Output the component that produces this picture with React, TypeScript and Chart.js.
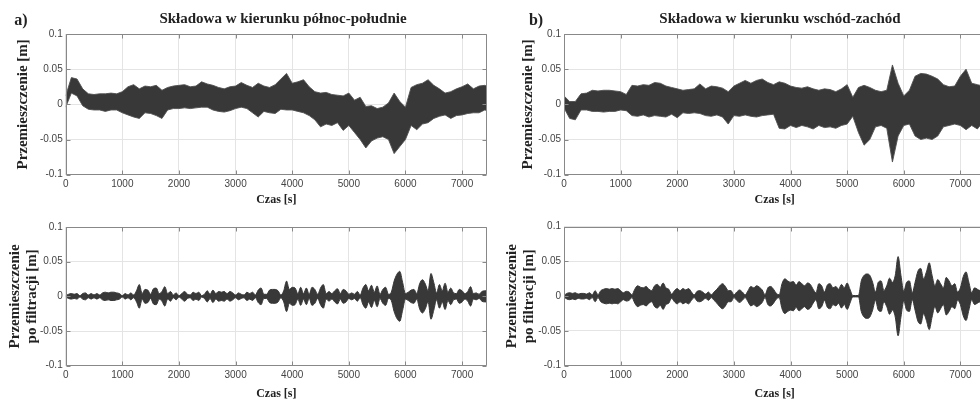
import React, { useEffect, useRef } from 'react';
import { Chart, registerables } from 'chart.js';

Chart.register(...registerables);

// ---------- axis ticks ----------
const xTicks = [0, 1000, 2000, 3000, 4000, 5000, 6000, 7000];
const xTickLabels = ['0', '1000', '2000', '3000', '4000', '5000', '6000', '7000'];
const yTicks = [-0.1, -0.05, 0, 0.05, 0.1];
const yTickLabels = ['-0.1', '-0.05', '0', '0.05', '0.1'];

// ---------- time bases (s) ----------
const rawStep = 100; // raw signals sampled every 100 s (0..7500)
const filtStep = 50; // filtered signals sampled every 50 s (0..7450)

// ---------- a) north-south, raw: upper / lower envelope [m] ----------
const nsRawUpper = [
  0.012, 0.038, 0.036, 0.022, 0.015, 0.014, 0.015, 0.015, 0.016, 0.015,
  0.018, 0.025, 0.028, 0.022, 0.026, 0.025, 0.027, 0.020, 0.024, 0.026,
  0.027, 0.028, 0.025, 0.026, 0.032, 0.029, 0.027, 0.024, 0.022, 0.025,
  0.026, 0.031, 0.027, 0.024, 0.030, 0.026, 0.024, 0.028, 0.036, 0.044,
  0.030, 0.032, 0.035, 0.025, 0.018, 0.016, 0.017, 0.014, 0.013, 0.012,
  0.016, 0.006, 0.010, -0.003, -0.002, -0.006, -0.004, 0.002, 0.016, 0.004,
  -0.004, 0.024, 0.028, 0.030, 0.035, 0.027, 0.022, 0.016, 0.018, 0.022,
  0.025, 0.029, 0.022, 0.026, 0.027, 0.024,
];
const nsRawLower = [
  -0.004, 0.016, 0.012, -0.002, -0.007, -0.008, -0.008, -0.010, -0.008, -0.008,
  -0.012, -0.015, -0.018, -0.020, -0.012, -0.013, -0.016, -0.020, -0.008, -0.006,
  -0.006, -0.005, -0.006, -0.005, -0.004, -0.004, -0.008, -0.010, -0.011, -0.009,
  -0.006, -0.004, -0.006, -0.012, -0.018, -0.010, -0.012, -0.013, -0.007, -0.008,
  -0.008, -0.010, -0.012, -0.016, -0.022, -0.032, -0.028, -0.030, -0.026, -0.037,
  -0.030, -0.040, -0.050, -0.062, -0.052, -0.048, -0.046, -0.050, -0.070, -0.060,
  -0.050, -0.030, -0.036, -0.028, -0.026, -0.020, -0.017, -0.015, -0.020, -0.016,
  -0.015, -0.013, -0.012, -0.012, -0.008, -0.010,
];

// ---------- b) east-west, raw: upper / lower envelope [m] ----------
const ewRawUpper = [
  0.012, 0.004, 0.004, 0.015, 0.016, 0.020, 0.019, 0.020, 0.020, 0.019,
  0.018, 0.014, 0.027, 0.026, 0.028, 0.027, 0.031, 0.030, 0.026, 0.024,
  0.022, 0.020, 0.021, 0.022, 0.029, 0.022, 0.026, 0.025, 0.023, 0.018,
  0.026, 0.030, 0.034, 0.030, 0.034, 0.036, 0.031, 0.028, 0.032, 0.030,
  0.026, 0.024, 0.023, 0.025, 0.022, 0.020, 0.022, 0.021, 0.018, 0.022,
  0.028, 0.010, 0.024, 0.027, 0.024, 0.020, 0.018, 0.020, 0.056, 0.030,
  0.012, 0.020, 0.040, 0.044, 0.043, 0.040, 0.036, 0.028, 0.025, 0.026,
  0.040, 0.050, 0.030, 0.028, 0.026, 0.024,
];
const ewRawLower = [
  -0.005, -0.020, -0.022, -0.008, -0.008, -0.010, -0.010, -0.011, -0.010, -0.010,
  -0.008, -0.009, -0.016, -0.017, -0.015, -0.018, -0.016, -0.017, -0.018, -0.014,
  -0.019, -0.012, -0.013, -0.012, -0.013, -0.016, -0.017, -0.015, -0.018, -0.028,
  -0.016, -0.017, -0.015, -0.017, -0.018, -0.016, -0.015, -0.014, -0.034, -0.035,
  -0.030, -0.033, -0.030, -0.032, -0.035, -0.030, -0.033, -0.032, -0.034, -0.030,
  -0.028, -0.017, -0.040, -0.058, -0.050, -0.032, -0.030, -0.034, -0.082, -0.045,
  -0.030, -0.028, -0.045, -0.050, -0.048, -0.050, -0.045, -0.032, -0.030, -0.028,
  -0.030, -0.036, -0.030, -0.035, -0.025, -0.022,
];

// ---------- filtered signals: envelope amplitude [m] ----------
const nsFiltAmp = [
  0.001, 0.003, 0.004, 0.003, 0.004, 0.001, 0.004, 0.005, 0.002, 0.004,
  0.002, 0.004, 0.002, 0.005, 0.006, 0.005, 0.006, 0.006, 0.005, 0.004,
  0.001, 0.004, 0.002, 0.005, 0.002, 0.008, 0.017, 0.004, 0.010, 0.009,
  0.003, 0.011, 0.012, 0.004, 0.007, 0.014, 0.004, 0.007, 0.002, 0.005,
  0.001, 0.004, 0.007, 0.003, 0.002, 0.006, 0.004, 0.006, 0.001, 0.003,
  0.008, 0.003, 0.009, 0.004, 0.007, 0.006, 0.007, 0.004, 0.007, 0.005,
  0.002, 0.005, 0.003, 0.002, 0.006, 0.004, 0.006, 0.002, 0.009, 0.012,
  0.003, 0.003, 0.009, 0.010, 0.010, 0.008, 0.002, 0.008, 0.022, 0.010,
  0.013, 0.012, 0.004, 0.013, 0.004, 0.012, 0.003, 0.013, 0.010, 0.003,
  0.012, 0.017, 0.004, 0.007, 0.004, 0.008, 0.011, 0.004, 0.010, 0.008,
  0.003, 0.005, 0.003, 0.007, 0.002, 0.012, 0.017, 0.008, 0.016, 0.006,
  0.015, 0.003, 0.010, 0.013, 0.003, 0.006, 0.022, 0.032, 0.036, 0.020,
  0.004, 0.006, 0.009, 0.010, 0.004, 0.018, 0.024, 0.018, 0.008, 0.033,
  0.020, 0.005, 0.017, 0.008, 0.019, 0.006, 0.012, 0.005, 0.004, 0.010,
  0.008, 0.004, 0.007, 0.014, 0.004, 0.005, 0.003, 0.007, 0.008, 0.008,
];
const ewFiltAmp = [
  0.001, 0.004, 0.005, 0.004, 0.005, 0.003, 0.004, 0.004, 0.003, 0.005,
  0.002, 0.008, 0.002, 0.008, 0.010, 0.011, 0.010, 0.011, 0.010, 0.011,
  0.008, 0.005, 0.007, 0.006, 0.002, 0.010, 0.015, 0.013, 0.012, 0.014,
  0.010, 0.008, 0.015, 0.017, 0.013, 0.019, 0.012, 0.010, 0.003, 0.008,
  0.011, 0.008, 0.011, 0.009, 0.011, 0.006, 0.002, 0.007, 0.008, 0.006,
  0.003, 0.006, 0.002, 0.006, 0.010, 0.015, 0.018, 0.014, 0.008, 0.008,
  0.002, 0.006, 0.009, 0.006, 0.002, 0.008, 0.014, 0.012, 0.015, 0.013,
  0.009, 0.002, 0.012, 0.014, 0.010, 0.004, 0.002, 0.018, 0.025, 0.022,
  0.020, 0.021, 0.016, 0.021, 0.018, 0.015, 0.019, 0.017, 0.010, 0.005,
  0.018, 0.015, 0.006, 0.016, 0.018, 0.012, 0.014, 0.010, 0.017, 0.012,
  0.019, 0.010, 0.001, 0.001, 0.001, 0.022, 0.030, 0.032, 0.030, 0.020,
  0.006, 0.020, 0.022, 0.008, 0.015, 0.026, 0.020, 0.030, 0.057, 0.030,
  0.007, 0.020, 0.022, 0.005, 0.020, 0.036, 0.040, 0.025, 0.035, 0.048,
  0.030, 0.015, 0.024, 0.018, 0.012, 0.027, 0.022, 0.015, 0.018, 0.006,
  0.012, 0.028, 0.035, 0.020, 0.005, 0.012, 0.010, 0.008, 0.012, 0.010,
];

// ---------- texts ----------
const titleNS = 'Składowa w kierunku północ-południe';
const titleEW = 'Składowa w kierunku wschód-zachód';
const yTitleRaw = 'Przemieszczenie [m]';
const yTitleFilt = ['Przemieszczenie', 'po filtracji [m]'];
const xTitle = 'Czas [s]';

const SERIF = '"Liberation Serif", "Times New Roman", Times, serif';
const SANS = '"Liberation Sans", Arial, Helvetica, sans-serif';

type Spec = {
  key: string;
  left: number; top: number; width: number; height: number;
  padTop: number; padRight: number; yWidth: number; xHeight: number;
  yTitle: string | string[]; yTitlePad: number; yTitleLH: number;
  xTitlePad: number;
  upper: number[]; lower: number[]; step: number; smooth: boolean;
  title?: string; titleX?: number; label?: string; labelX?: number;
};

const panels: Spec[] = [
  { key: 'a1', left: 0, top: 0, width: 490, height: 215, padTop: 34, padRight: 3, yWidth: 65.7, xHeight: 40.3,
    yTitle: yTitleRaw, yTitlePad: 14, yTitleLH: 1.2, xTitlePad: 9,
    upper: nsRawUpper, lower: nsRawLower, step: rawStep, smooth: false,
    title: titleNS, titleX: 283, label: 'a)', labelX: 21 },
  { key: 'b1', left: 490, top: 0, width: 500, height: 215, padTop: 34, padRight: 4.7, yWidth: 74, xHeight: 40.3,
    yTitle: yTitleRaw, yTitlePad: 29, yTitleLH: 1.2, xTitlePad: 9,
    upper: ewRawUpper, lower: ewRawLower, step: rawStep, smooth: false,
    title: titleEW, titleX: 290, label: 'b)', labelX: 46 },
  { key: 'a2', left: 0, top: 200, width: 490, height: 200, padTop: 27, padRight: 3, yWidth: 65.7, xHeight: 34.3,
    yTitle: yTitleFilt, yTitlePad: 7, yTitleLH: 1.1, xTitlePad: 0,
    upper: nsFiltAmp, lower: nsFiltAmp.map((v) => -v), step: filtStep, smooth: true },
  { key: 'b2', left: 490, top: 200, width: 500, height: 200, padTop: 26.7, padRight: 4.7, yWidth: 74, xHeight: 34.3,
    yTitle: yTitleFilt, yTitlePad: 13, yTitleLH: 1.15, xTitlePad: 0,
    upper: ewFiltAmp, lower: ewFiltAmp.map((v) => -v), step: filtStep, smooth: true },
];

const framePlugin = {
  id: 'frameAndTitles',
  afterDatasetsDraw(chart: any) {
    const { ctx, chartArea: a, scales } = chart;
    ctx.save();
    ctx.strokeStyle = '#888888';
    ctx.lineWidth = 1;
    const L = Math.round(a.left) + 0.5, R = Math.round(a.right) - 0.5;
    const T = Math.round(a.top) + 0.5, B = Math.round(a.bottom) - 0.5;
    ctx.beginPath();
    ctx.moveTo(L, T); ctx.lineTo(R, T); ctx.lineTo(R, B); ctx.lineTo(L, B); ctx.closePath();
    ctx.stroke();
    ctx.beginPath();
    xTicks.forEach((v) => {
      const px = Math.round(scales.x.getPixelForValue(v)) + 0.5;
      ctx.moveTo(px, B); ctx.lineTo(px, B - 4);
      ctx.moveTo(px, T); ctx.lineTo(px, T + 4);
    });
    yTicks.forEach((v) => {
      const py = Math.round(scales.y.getPixelForValue(v)) + 0.5;
      ctx.moveTo(L, py); ctx.lineTo(L + 4, py);
      ctx.moveTo(R, py); ctx.lineTo(R - 4, py);
    });
    ctx.stroke();
    ctx.restore();
  },
  afterDraw(chart: any, _args: any, opts: any) {
    const { ctx } = chart;
    ctx.save();
    ctx.fillStyle = '#222';
    ctx.textBaseline = 'middle';
    if (opts.title) {
      ctx.font = `bold 15px ${SERIF}`;
      ctx.textAlign = 'center';
      ctx.fillText(opts.title, opts.titleX, 19);
    }
    if (opts.label) {
      ctx.font = `bold 16px ${SERIF}`;
      ctx.textAlign = 'center';
      ctx.fillText(opts.label, opts.labelX, 21);
    }
    ctx.restore();
  },
};

function Panel({ spec }: { spec: Spec }) {
  const ref = useRef<HTMLCanvasElement | null>(null);
  useEffect(() => {
    if (!ref.current) return;
    const mk = (vals: number[]) => vals.map((y, i) => ({ x: i * spec.step, y }));
    const fillColor = '#383838';
    const edge = spec.smooth ? '#383838' : 'rgba(80,80,80,0.9)';
    const common = {
      pointRadius: 0,
      borderWidth: 1,
      borderColor: edge,
      tension: spec.smooth ? 0.4 : 0,
      cubicInterpolationMode: spec.smooth ? 'monotone' : 'default',
    };
    const chart = new Chart(ref.current, {
      type: 'line',
      data: {
        datasets: [
          { ...common, data: mk(spec.upper), fill: false },
          { ...common, data: mk(spec.lower), fill: '-1', backgroundColor: fillColor },
        ],
      } as any,
      options: {
        responsive: false,
        animation: false,
        devicePixelRatio: 1,
        events: [],
        layout: { padding: { top: spec.padTop, right: spec.padRight, left: 0, bottom: 0 } },
        plugins: {
          legend: { display: false },
          tooltip: { enabled: false },
          title: { display: false },
          frameAndTitles: { title: spec.title, titleX: spec.titleX, label: spec.label, labelX: spec.labelX },
        } as any,
        scales: {
          x: {
            type: 'linear',
            min: 0,
            max: 7440,
            afterBuildTicks: (s: any) => { s.ticks = xTicks.map((v) => ({ value: v })); },
            afterFit: (s: any) => { s.height = spec.xHeight; },
            ticks: {
              callback: (v: any) => xTickLabels[xTicks.indexOf(v)] ?? '',
              font: { family: SANS, size: 10 },
              color: '#444444',
              padding: 4,
              maxRotation: 0,
              autoSkip: false,
            },
            grid: { color: '#e4e4e4', lineWidth: 1, drawTicks: false },
            border: { display: false },
            title: {
              display: true,
              text: xTitle,
              font: { family: SERIF, size: 12, weight: 'bold', lineHeight: 1 },
              color: '#222',
              padding: { top: 0, bottom: spec.xTitlePad },
            },
          },
          y: {
            type: 'linear',
            min: -0.1,
            max: 0.1,
            afterBuildTicks: (s: any) => { s.ticks = yTicks.map((v) => ({ value: v })); },
            afterFit: (s: any) => { s.width = spec.yWidth; },
            ticks: {
              callback: (v: any) => yTickLabels[yTicks.indexOf(v)] ?? '',
              font: { family: SANS, size: 10 },
              color: '#444444',
              padding: 3,
              autoSkip: false,
            },
            grid: { color: '#e4e4e4', lineWidth: 1, drawTicks: false },
            border: { display: false },
            title: {
              display: true,
              text: spec.yTitle,
              font: { family: SERIF, size: 15, weight: 'bold', lineHeight: spec.yTitleLH },
              color: '#222',
              padding: { top: spec.yTitlePad, bottom: 0 },
            },
          },
        },
      } as any,
      plugins: [framePlugin as any],
    });
    return () => chart.destroy();
  }, [spec]);
  return (
    <canvas
      ref={ref}
      width={spec.width}
      height={spec.height}
      style={{ position: 'absolute', left: spec.left, top: spec.top, width: spec.width, height: spec.height }}
    />
  );
}

export default function App() {
  return (
    <div style={{ position: 'fixed', left: 0, top: 0, width: 980, height: 400, overflow: 'hidden', background: '#fff' }}>
      {panels.map((p) => (
        <Panel key={p.key} spec={p} />
      ))}
    </div>
  );
}
